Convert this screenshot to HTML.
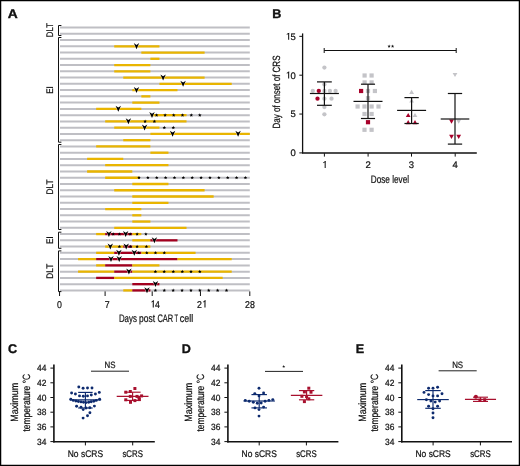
<!DOCTYPE html>
<html><head><meta charset="utf-8"><style>
html,body{margin:0;padding:0;background:#fff;}
svg{display:block;will-change:transform;}
text{font-family:"Liberation Sans",sans-serif;}
.t{stroke:#111;stroke-width:0.22px;}
</style></head><body>
<svg width="520" height="466" viewBox="0 0 520 466">
<rect width="520" height="466" fill="#fff"/>
<rect x="0.6" y="0.6" width="518.8" height="464.8" fill="none" stroke="#000" stroke-width="1.3"/>
<text transform="translate(7.7,17.6) matrix(1,0,0.002,1,0,0)" font-size="12.6" text-anchor="start" font-weight="bold" textLength="10" lengthAdjust="spacingAndGlyphs" fill="#111" stroke="#111" stroke-width="0.35">A</text>
<line x1="60.00" y1="27.50" x2="249.80" y2="27.50" stroke="#bfbfc4" stroke-width="2"/>
<line x1="60.00" y1="33.76" x2="249.80" y2="33.76" stroke="#bfbfc4" stroke-width="2"/>
<line x1="60.00" y1="40.02" x2="249.80" y2="40.02" stroke="#bfbfc4" stroke-width="2"/>
<line x1="60.00" y1="46.28" x2="249.80" y2="46.28" stroke="#bfbfc4" stroke-width="2"/>
<line x1="60.00" y1="52.54" x2="249.80" y2="52.54" stroke="#bfbfc4" stroke-width="2"/>
<line x1="60.00" y1="58.80" x2="249.80" y2="58.80" stroke="#bfbfc4" stroke-width="2"/>
<line x1="60.00" y1="65.06" x2="249.80" y2="65.06" stroke="#bfbfc4" stroke-width="2"/>
<line x1="60.00" y1="71.32" x2="249.80" y2="71.32" stroke="#bfbfc4" stroke-width="2"/>
<line x1="60.00" y1="77.58" x2="249.80" y2="77.58" stroke="#bfbfc4" stroke-width="2"/>
<line x1="60.00" y1="83.84" x2="249.80" y2="83.84" stroke="#bfbfc4" stroke-width="2"/>
<line x1="60.00" y1="90.10" x2="249.80" y2="90.10" stroke="#bfbfc4" stroke-width="2"/>
<line x1="60.00" y1="96.36" x2="249.80" y2="96.36" stroke="#bfbfc4" stroke-width="2"/>
<line x1="60.00" y1="102.62" x2="249.80" y2="102.62" stroke="#bfbfc4" stroke-width="2"/>
<line x1="60.00" y1="108.88" x2="249.80" y2="108.88" stroke="#bfbfc4" stroke-width="2"/>
<line x1="60.00" y1="115.14" x2="249.80" y2="115.14" stroke="#bfbfc4" stroke-width="2"/>
<line x1="60.00" y1="121.40" x2="249.80" y2="121.40" stroke="#bfbfc4" stroke-width="2"/>
<line x1="60.00" y1="127.66" x2="249.80" y2="127.66" stroke="#bfbfc4" stroke-width="2"/>
<line x1="60.00" y1="133.92" x2="249.80" y2="133.92" stroke="#bfbfc4" stroke-width="2"/>
<line x1="60.00" y1="140.18" x2="249.80" y2="140.18" stroke="#bfbfc4" stroke-width="2"/>
<line x1="60.00" y1="146.44" x2="249.80" y2="146.44" stroke="#bfbfc4" stroke-width="2"/>
<line x1="60.00" y1="152.70" x2="249.80" y2="152.70" stroke="#bfbfc4" stroke-width="2"/>
<line x1="60.00" y1="158.96" x2="249.80" y2="158.96" stroke="#bfbfc4" stroke-width="2"/>
<line x1="60.00" y1="165.22" x2="249.80" y2="165.22" stroke="#bfbfc4" stroke-width="2"/>
<line x1="60.00" y1="171.48" x2="249.80" y2="171.48" stroke="#bfbfc4" stroke-width="2"/>
<line x1="60.00" y1="177.74" x2="249.80" y2="177.74" stroke="#bfbfc4" stroke-width="2"/>
<line x1="60.00" y1="184.00" x2="249.80" y2="184.00" stroke="#bfbfc4" stroke-width="2"/>
<line x1="60.00" y1="190.26" x2="249.80" y2="190.26" stroke="#bfbfc4" stroke-width="2"/>
<line x1="60.00" y1="196.52" x2="249.80" y2="196.52" stroke="#bfbfc4" stroke-width="2"/>
<line x1="60.00" y1="202.78" x2="249.80" y2="202.78" stroke="#bfbfc4" stroke-width="2"/>
<line x1="60.00" y1="209.04" x2="249.80" y2="209.04" stroke="#bfbfc4" stroke-width="2"/>
<line x1="60.00" y1="215.30" x2="249.80" y2="215.30" stroke="#bfbfc4" stroke-width="2"/>
<line x1="60.00" y1="221.56" x2="249.80" y2="221.56" stroke="#bfbfc4" stroke-width="2"/>
<line x1="60.00" y1="227.82" x2="249.80" y2="227.82" stroke="#bfbfc4" stroke-width="2"/>
<line x1="60.00" y1="234.08" x2="249.80" y2="234.08" stroke="#bfbfc4" stroke-width="2"/>
<line x1="60.00" y1="240.34" x2="249.80" y2="240.34" stroke="#bfbfc4" stroke-width="2"/>
<line x1="60.00" y1="246.60" x2="249.80" y2="246.60" stroke="#bfbfc4" stroke-width="2"/>
<line x1="60.00" y1="252.86" x2="249.80" y2="252.86" stroke="#bfbfc4" stroke-width="2"/>
<line x1="60.00" y1="259.12" x2="249.80" y2="259.12" stroke="#bfbfc4" stroke-width="2"/>
<line x1="60.00" y1="265.38" x2="249.80" y2="265.38" stroke="#bfbfc4" stroke-width="2"/>
<line x1="60.00" y1="271.64" x2="249.80" y2="271.64" stroke="#bfbfc4" stroke-width="2"/>
<line x1="60.00" y1="277.90" x2="249.80" y2="277.90" stroke="#bfbfc4" stroke-width="2"/>
<line x1="60.00" y1="284.16" x2="249.80" y2="284.16" stroke="#bfbfc4" stroke-width="2"/>
<line x1="60.00" y1="290.42" x2="249.80" y2="290.42" stroke="#bfbfc4" stroke-width="2"/>
<line x1="114.23" y1="46.28" x2="159.42" y2="46.28" stroke="#e9b500" stroke-width="2.3"/>
<line x1="141.34" y1="52.54" x2="204.61" y2="52.54" stroke="#e9b500" stroke-width="2.3"/>
<line x1="150.38" y1="58.80" x2="159.42" y2="58.80" stroke="#e9b500" stroke-width="2.3"/>
<line x1="114.23" y1="65.06" x2="150.38" y2="65.06" stroke="#e9b500" stroke-width="2.3"/>
<line x1="114.23" y1="71.32" x2="150.38" y2="71.32" stroke="#e9b500" stroke-width="2.3"/>
<line x1="123.27" y1="77.58" x2="204.61" y2="77.58" stroke="#e9b500" stroke-width="2.3"/>
<line x1="159.42" y1="83.84" x2="231.72" y2="83.84" stroke="#e9b500" stroke-width="2.3"/>
<line x1="132.30" y1="90.10" x2="177.49" y2="90.10" stroke="#e9b500" stroke-width="2.3"/>
<line x1="141.34" y1="96.36" x2="150.38" y2="96.36" stroke="#e9b500" stroke-width="2.3"/>
<line x1="132.30" y1="102.62" x2="159.42" y2="102.62" stroke="#e9b500" stroke-width="2.3"/>
<line x1="96.15" y1="108.88" x2="141.34" y2="108.88" stroke="#e9b500" stroke-width="2.3"/>
<line x1="150.38" y1="115.14" x2="186.53" y2="115.14" stroke="#e9b500" stroke-width="2.3"/>
<line x1="105.19" y1="121.40" x2="186.53" y2="121.40" stroke="#e9b500" stroke-width="2.3"/>
<line x1="114.23" y1="127.66" x2="159.42" y2="127.66" stroke="#e9b500" stroke-width="2.3"/>
<line x1="150.38" y1="133.92" x2="249.80" y2="133.92" stroke="#e9b500" stroke-width="2.3"/>
<line x1="123.27" y1="140.18" x2="150.38" y2="140.18" stroke="#e9b500" stroke-width="2.3"/>
<line x1="96.15" y1="146.44" x2="150.38" y2="146.44" stroke="#e9b500" stroke-width="2.3"/>
<line x1="150.38" y1="152.70" x2="168.46" y2="152.70" stroke="#e9b500" stroke-width="2.3"/>
<line x1="87.11" y1="158.96" x2="123.27" y2="158.96" stroke="#e9b500" stroke-width="2.3"/>
<line x1="105.19" y1="165.22" x2="168.46" y2="165.22" stroke="#e9b500" stroke-width="2.3"/>
<line x1="87.11" y1="171.48" x2="132.30" y2="171.48" stroke="#e9b500" stroke-width="2.3"/>
<line x1="105.19" y1="177.74" x2="139.53" y2="177.74" stroke="#e9b500" stroke-width="2.3"/>
<line x1="132.30" y1="184.00" x2="168.46" y2="184.00" stroke="#e9b500" stroke-width="2.3"/>
<line x1="114.23" y1="190.26" x2="204.61" y2="190.26" stroke="#e9b500" stroke-width="2.3"/>
<line x1="132.30" y1="196.52" x2="213.65" y2="196.52" stroke="#e9b500" stroke-width="2.3"/>
<line x1="132.30" y1="202.78" x2="168.46" y2="202.78" stroke="#e9b500" stroke-width="2.3"/>
<line x1="105.19" y1="209.04" x2="141.34" y2="209.04" stroke="#e9b500" stroke-width="2.3"/>
<line x1="132.30" y1="215.30" x2="141.34" y2="215.30" stroke="#e9b500" stroke-width="2.3"/>
<line x1="132.30" y1="221.56" x2="150.38" y2="221.56" stroke="#e9b500" stroke-width="2.3"/>
<line x1="114.23" y1="227.82" x2="186.53" y2="227.82" stroke="#e9b500" stroke-width="2.3"/>
<line x1="96.15" y1="234.08" x2="105.19" y2="234.08" stroke="#e9b500" stroke-width="2.3"/>
<line x1="105.19" y1="234.08" x2="132.30" y2="234.08" stroke="#a3001f" stroke-width="2.3"/>
<line x1="132.30" y1="234.08" x2="141.34" y2="234.08" stroke="#e9b500" stroke-width="2.3"/>
<line x1="132.30" y1="240.34" x2="150.38" y2="240.34" stroke="#e9b500" stroke-width="2.3"/>
<line x1="150.38" y1="240.34" x2="177.49" y2="240.34" stroke="#a3001f" stroke-width="2.3"/>
<line x1="105.19" y1="246.60" x2="123.27" y2="246.60" stroke="#e9b500" stroke-width="2.3"/>
<line x1="123.27" y1="246.60" x2="132.30" y2="246.60" stroke="#a3001f" stroke-width="2.3"/>
<line x1="132.30" y1="246.60" x2="150.38" y2="246.60" stroke="#e9b500" stroke-width="2.3"/>
<line x1="96.15" y1="252.86" x2="114.23" y2="252.86" stroke="#e9b500" stroke-width="2.3"/>
<line x1="114.23" y1="252.86" x2="141.34" y2="252.86" stroke="#a3001f" stroke-width="2.3"/>
<line x1="141.34" y1="252.86" x2="195.57" y2="252.86" stroke="#e9b500" stroke-width="2.3"/>
<line x1="78.08" y1="259.12" x2="96.15" y2="259.12" stroke="#e9b500" stroke-width="2.3"/>
<line x1="96.15" y1="259.12" x2="177.49" y2="259.12" stroke="#a3001f" stroke-width="2.3"/>
<line x1="177.49" y1="259.12" x2="231.72" y2="259.12" stroke="#e9b500" stroke-width="2.3"/>
<line x1="96.15" y1="265.38" x2="105.19" y2="265.38" stroke="#e9b500" stroke-width="2.3"/>
<line x1="105.19" y1="265.38" x2="132.30" y2="265.38" stroke="#a3001f" stroke-width="2.3"/>
<line x1="132.30" y1="265.38" x2="159.42" y2="265.38" stroke="#e9b500" stroke-width="2.3"/>
<line x1="78.08" y1="271.64" x2="114.23" y2="271.64" stroke="#e9b500" stroke-width="2.3"/>
<line x1="114.23" y1="271.64" x2="132.30" y2="271.64" stroke="#a3001f" stroke-width="2.3"/>
<line x1="132.30" y1="271.64" x2="231.72" y2="271.64" stroke="#e9b500" stroke-width="2.3"/>
<line x1="96.15" y1="277.90" x2="114.23" y2="277.90" stroke="#a3001f" stroke-width="2.3"/>
<line x1="114.23" y1="277.90" x2="222.68" y2="277.90" stroke="#e9b500" stroke-width="2.3"/>
<line x1="132.30" y1="284.16" x2="159.42" y2="284.16" stroke="#a3001f" stroke-width="2.3"/>
<line x1="123.27" y1="290.42" x2="132.30" y2="290.42" stroke="#e9b500" stroke-width="2.3"/>
<line x1="132.30" y1="290.42" x2="150.38" y2="290.42" stroke="#a3001f" stroke-width="2.3"/>
<path d="M133.80,43.08L136.50,44.98L139.20,43.08L136.50,49.18Z" fill="#000" stroke="#fff" stroke-width="0.7" paint-order="stroke" stroke-linejoin="round"/>
<path d="M160.40,74.38L163.10,76.28L165.80,74.38L163.10,80.48Z" fill="#000" stroke="#fff" stroke-width="0.7" paint-order="stroke" stroke-linejoin="round"/>
<path d="M180.40,80.64L183.10,82.54L185.80,80.64L183.10,86.74Z" fill="#000" stroke="#fff" stroke-width="0.7" paint-order="stroke" stroke-linejoin="round"/>
<path d="M133.80,86.90L136.50,88.80L139.20,86.90L136.50,93.00Z" fill="#000" stroke="#fff" stroke-width="0.7" paint-order="stroke" stroke-linejoin="round"/>
<path d="M115.60,105.68L118.30,107.58L121.00,105.68L118.30,111.78Z" fill="#000" stroke="#fff" stroke-width="0.7" paint-order="stroke" stroke-linejoin="round"/>
<polygon points="156.60,113.29 157.09,114.47 158.36,114.57 157.39,115.40 157.69,116.64 156.60,115.97 155.51,116.64 155.81,115.40 154.84,114.57 156.11,114.47" fill="#000"/>
<polygon points="165.10,113.29 165.59,114.47 166.86,114.57 165.89,115.40 166.19,116.64 165.10,115.97 164.01,116.64 164.31,115.40 163.34,114.57 164.61,114.47" fill="#000"/>
<polygon points="173.70,113.29 174.19,114.47 175.46,114.57 174.49,115.40 174.79,116.64 173.70,115.97 172.61,116.64 172.91,115.40 171.94,114.57 173.21,114.47" fill="#000"/>
<polygon points="182.50,113.29 182.99,114.47 184.26,114.57 183.29,115.40 183.59,116.64 182.50,115.97 181.41,116.64 181.71,115.40 180.74,114.57 182.01,114.47" fill="#000"/>
<polygon points="191.30,113.29 191.79,114.47 193.06,114.57 192.09,115.40 192.39,116.64 191.30,115.97 190.21,116.64 190.51,115.40 189.54,114.57 190.81,114.47" fill="#000"/>
<polygon points="199.80,113.29 200.29,114.47 201.56,114.57 200.59,115.40 200.89,116.64 199.80,115.97 198.71,116.64 199.01,115.40 198.04,114.57 199.31,114.47" fill="#000"/>
<path d="M149.30,111.94L152.00,113.84L154.70,111.94L152.00,118.04Z" fill="#000" stroke="#fff" stroke-width="0.7" paint-order="stroke" stroke-linejoin="round"/>
<polygon points="145.10,119.55 145.59,120.73 146.86,120.83 145.89,121.66 146.19,122.90 145.10,122.23 144.01,122.90 144.31,121.66 143.34,120.83 144.61,120.73" fill="#000"/>
<polygon points="154.40,119.55 154.89,120.73 156.16,120.83 155.19,121.66 155.49,122.90 154.40,122.23 153.31,122.90 153.61,121.66 152.64,120.83 153.91,120.73" fill="#000"/>
<path d="M125.70,118.20L128.40,120.10L131.10,118.20L128.40,124.30Z" fill="#000" stroke="#fff" stroke-width="0.7" paint-order="stroke" stroke-linejoin="round"/>
<polygon points="164.30,125.81 164.79,126.99 166.06,127.09 165.09,127.92 165.39,129.16 164.30,128.49 163.21,129.16 163.51,127.92 162.54,127.09 163.81,126.99" fill="#000"/>
<polygon points="173.30,125.81 173.79,126.99 175.06,127.09 174.09,127.92 174.39,129.16 173.30,128.49 172.21,129.16 172.51,127.92 171.54,127.09 172.81,126.99" fill="#000"/>
<path d="M141.90,124.46L144.60,126.36L147.30,124.46L144.60,130.56Z" fill="#000" stroke="#fff" stroke-width="0.7" paint-order="stroke" stroke-linejoin="round"/>
<path d="M169.90,130.72L172.60,132.62L175.30,130.72L172.60,136.82Z" fill="#000" stroke="#fff" stroke-width="0.7" paint-order="stroke" stroke-linejoin="round"/>
<path d="M235.40,130.72L238.10,132.62L240.80,130.72L238.10,136.82Z" fill="#000" stroke="#fff" stroke-width="0.7" paint-order="stroke" stroke-linejoin="round"/>
<polygon points="139.00,175.89 139.49,177.07 140.76,177.17 139.79,178.00 140.09,179.24 139.00,178.57 137.91,179.24 138.21,178.00 137.24,177.17 138.51,177.07" fill="#000"/>
<polygon points="147.87,175.89 148.36,177.07 149.63,177.17 148.66,178.00 148.96,179.24 147.87,178.57 146.78,179.24 147.08,178.00 146.11,177.17 147.38,177.07" fill="#000"/>
<polygon points="156.74,175.89 157.23,177.07 158.50,177.17 157.53,178.00 157.83,179.24 156.74,178.57 155.65,179.24 155.95,178.00 154.98,177.17 156.25,177.07" fill="#000"/>
<polygon points="165.61,175.89 166.10,177.07 167.37,177.17 166.40,178.00 166.70,179.24 165.61,178.57 164.52,179.24 164.82,178.00 163.85,177.17 165.12,177.07" fill="#000"/>
<polygon points="174.48,175.89 174.97,177.07 176.24,177.17 175.27,178.00 175.57,179.24 174.48,178.57 173.39,179.24 173.69,178.00 172.72,177.17 173.99,177.07" fill="#000"/>
<polygon points="183.35,175.89 183.84,177.07 185.11,177.17 184.14,178.00 184.44,179.24 183.35,178.57 182.26,179.24 182.56,178.00 181.59,177.17 182.86,177.07" fill="#000"/>
<polygon points="192.22,175.89 192.71,177.07 193.98,177.17 193.01,178.00 193.31,179.24 192.22,178.57 191.13,179.24 191.43,178.00 190.46,177.17 191.73,177.07" fill="#000"/>
<polygon points="201.09,175.89 201.58,177.07 202.85,177.17 201.88,178.00 202.18,179.24 201.09,178.57 200.00,179.24 200.30,178.00 199.33,177.17 200.60,177.07" fill="#000"/>
<polygon points="209.96,175.89 210.45,177.07 211.72,177.17 210.75,178.00 211.05,179.24 209.96,178.57 208.87,179.24 209.17,178.00 208.20,177.17 209.47,177.07" fill="#000"/>
<polygon points="218.83,175.89 219.32,177.07 220.59,177.17 219.62,178.00 219.92,179.24 218.83,178.57 217.74,179.24 218.04,178.00 217.07,177.17 218.34,177.07" fill="#000"/>
<polygon points="227.70,175.89 228.19,177.07 229.46,177.17 228.49,178.00 228.79,179.24 227.70,178.57 226.61,179.24 226.91,178.00 225.94,177.17 227.21,177.07" fill="#000"/>
<polygon points="236.57,175.89 237.06,177.07 238.33,177.17 237.36,178.00 237.66,179.24 236.57,178.57 235.48,179.24 235.78,178.00 234.81,177.17 236.08,177.07" fill="#000"/>
<polygon points="245.44,175.89 245.93,177.07 247.20,177.17 246.23,178.00 246.53,179.24 245.44,178.57 244.35,179.24 244.65,178.00 243.68,177.17 244.95,177.07" fill="#000"/>
<polygon points="113.20,232.23 113.69,233.41 114.96,233.51 113.99,234.34 114.29,235.58 113.20,234.91 112.11,235.58 112.41,234.34 111.44,233.51 112.71,233.41" fill="#000"/>
<polygon points="119.40,232.23 119.89,233.41 121.16,233.51 120.19,234.34 120.49,235.58 119.40,234.91 118.31,235.58 118.61,234.34 117.64,233.51 118.91,233.41" fill="#000"/>
<polygon points="130.20,232.23 130.69,233.41 131.96,233.51 130.99,234.34 131.29,235.58 130.20,234.91 129.11,235.58 129.41,234.34 128.44,233.51 129.71,233.41" fill="#000"/>
<polygon points="137.10,232.23 137.59,233.41 138.86,233.51 137.89,234.34 138.19,235.58 137.10,234.91 136.01,235.58 136.31,234.34 135.34,233.51 136.61,233.41" fill="#000"/>
<polygon points="145.90,232.23 146.39,233.41 147.66,233.51 146.69,234.34 146.99,235.58 145.90,234.91 144.81,235.58 145.11,234.34 144.14,233.51 145.41,233.41" fill="#000"/>
<path d="M106.20,230.88L108.90,232.78L111.60,230.88L108.90,236.98Z" fill="#000" stroke="#fff" stroke-width="0.7" paint-order="stroke" stroke-linejoin="round"/>
<path d="M123.00,230.88L125.70,232.78L128.40,230.88L125.70,236.98Z" fill="#000" stroke="#fff" stroke-width="0.7" paint-order="stroke" stroke-linejoin="round"/>
<path d="M151.70,237.14L154.40,239.04L157.10,237.14L154.40,243.24Z" fill="#000" stroke="#fff" stroke-width="0.7" paint-order="stroke" stroke-linejoin="round"/>
<polygon points="119.40,244.75 119.89,245.93 121.16,246.03 120.19,246.86 120.49,248.10 119.40,247.43 118.31,248.10 118.61,246.86 117.64,246.03 118.91,245.93" fill="#000"/>
<polygon points="130.50,244.75 130.99,245.93 132.26,246.03 131.29,246.86 131.59,248.10 130.50,247.43 129.41,248.10 129.71,246.86 128.74,246.03 130.01,245.93" fill="#000"/>
<polygon points="137.10,244.75 137.59,245.93 138.86,246.03 137.89,246.86 138.19,248.10 137.10,247.43 136.01,248.10 136.31,246.86 135.34,246.03 136.61,245.93" fill="#000"/>
<polygon points="146.40,244.75 146.89,245.93 148.16,246.03 147.19,246.86 147.49,248.10 146.40,247.43 145.31,248.10 145.61,246.86 144.64,246.03 145.91,245.93" fill="#000"/>
<path d="M107.60,243.40L110.30,245.30L113.00,243.40L110.30,249.50Z" fill="#000" stroke="#fff" stroke-width="0.7" paint-order="stroke" stroke-linejoin="round"/>
<path d="M123.50,243.40L126.20,245.30L128.90,243.40L126.20,249.50Z" fill="#000" stroke="#fff" stroke-width="0.7" paint-order="stroke" stroke-linejoin="round"/>
<polygon points="138.80,251.01 139.29,252.19 140.56,252.29 139.59,253.12 139.89,254.36 138.80,253.69 137.71,254.36 138.01,253.12 137.04,252.29 138.31,252.19" fill="#000"/>
<polygon points="146.80,251.01 147.29,252.19 148.56,252.29 147.59,253.12 147.89,254.36 146.80,253.69 145.71,254.36 146.01,253.12 145.04,252.29 146.31,252.19" fill="#000"/>
<polygon points="155.50,251.01 155.99,252.19 157.26,252.29 156.29,253.12 156.59,254.36 155.50,253.69 154.41,254.36 154.71,253.12 153.74,252.29 155.01,252.19" fill="#000"/>
<polygon points="164.30,251.01 164.79,252.19 166.06,252.29 165.09,253.12 165.39,254.36 164.30,253.69 163.21,254.36 163.51,253.12 162.54,252.29 163.81,252.19" fill="#000"/>
<path d="M116.20,249.66L118.90,251.56L121.60,249.66L118.90,255.76Z" fill="#000" stroke="#fff" stroke-width="0.7" paint-order="stroke" stroke-linejoin="round"/>
<path d="M131.60,249.66L134.30,251.56L137.00,249.66L134.30,255.76Z" fill="#000" stroke="#fff" stroke-width="0.7" paint-order="stroke" stroke-linejoin="round"/>
<path d="M108.30,255.92L111.00,257.82L113.70,255.92L111.00,262.02Z" fill="#000" stroke="#fff" stroke-width="0.7" paint-order="stroke" stroke-linejoin="round"/>
<path d="M116.50,255.92L119.20,257.82L121.90,255.92L119.20,262.02Z" fill="#000" stroke="#fff" stroke-width="0.7" paint-order="stroke" stroke-linejoin="round"/>
<polygon points="155.40,269.79 155.89,270.97 157.16,271.07 156.19,271.90 156.49,273.14 155.40,272.47 154.31,273.14 154.61,271.90 153.64,271.07 154.91,270.97" fill="#000"/>
<polygon points="164.20,269.79 164.69,270.97 165.96,271.07 164.99,271.90 165.29,273.14 164.20,272.47 163.11,273.14 163.41,271.90 162.44,271.07 163.71,270.97" fill="#000"/>
<polygon points="173.30,269.79 173.79,270.97 175.06,271.07 174.09,271.90 174.39,273.14 173.30,272.47 172.21,273.14 172.51,271.90 171.54,271.07 172.81,270.97" fill="#000"/>
<polygon points="182.30,269.79 182.79,270.97 184.06,271.07 183.09,271.90 183.39,273.14 182.30,272.47 181.21,273.14 181.51,271.90 180.54,271.07 181.81,270.97" fill="#000"/>
<polygon points="191.00,269.79 191.49,270.97 192.76,271.07 191.79,271.90 192.09,273.14 191.00,272.47 189.91,273.14 190.21,271.90 189.24,271.07 190.51,270.97" fill="#000"/>
<polygon points="199.80,269.79 200.29,270.97 201.56,271.07 200.59,271.90 200.89,273.14 199.80,272.47 198.71,273.14 199.01,271.90 198.04,271.07 199.31,270.97" fill="#000"/>
<path d="M126.20,268.44L128.90,270.34L131.60,268.44L128.90,274.54Z" fill="#000" stroke="#fff" stroke-width="0.7" paint-order="stroke" stroke-linejoin="round"/>
<path d="M152.80,280.96L155.50,282.86L158.20,280.96L155.50,287.06Z" fill="#000" stroke="#fff" stroke-width="0.7" paint-order="stroke" stroke-linejoin="round"/>
<polygon points="155.40,288.57 155.89,289.75 157.16,289.85 156.19,290.68 156.49,291.92 155.40,291.25 154.31,291.92 154.61,290.68 153.64,289.85 154.91,289.75" fill="#000"/>
<polygon points="164.29,288.57 164.78,289.75 166.05,289.85 165.08,290.68 165.38,291.92 164.29,291.25 163.20,291.92 163.50,290.68 162.53,289.85 163.80,289.75" fill="#000"/>
<polygon points="173.18,288.57 173.67,289.75 174.94,289.85 173.97,290.68 174.27,291.92 173.18,291.25 172.09,291.92 172.39,290.68 171.42,289.85 172.69,289.75" fill="#000"/>
<polygon points="182.07,288.57 182.56,289.75 183.83,289.85 182.86,290.68 183.16,291.92 182.07,291.25 180.98,291.92 181.28,290.68 180.31,289.85 181.58,289.75" fill="#000"/>
<polygon points="190.96,288.57 191.45,289.75 192.72,289.85 191.75,290.68 192.05,291.92 190.96,291.25 189.87,291.92 190.17,290.68 189.20,289.85 190.47,289.75" fill="#000"/>
<polygon points="199.85,288.57 200.34,289.75 201.61,289.85 200.64,290.68 200.94,291.92 199.85,291.25 198.76,291.92 199.06,290.68 198.09,289.85 199.36,289.75" fill="#000"/>
<polygon points="208.74,288.57 209.23,289.75 210.50,289.85 209.53,290.68 209.83,291.92 208.74,291.25 207.65,291.92 207.95,290.68 206.98,289.85 208.25,289.75" fill="#000"/>
<polygon points="217.63,288.57 218.12,289.75 219.39,289.85 218.42,290.68 218.72,291.92 217.63,291.25 216.54,291.92 216.84,290.68 215.87,289.85 217.14,289.75" fill="#000"/>
<polygon points="226.52,288.57 227.01,289.75 228.28,289.85 227.31,290.68 227.61,291.92 226.52,291.25 225.43,291.92 225.73,290.68 224.76,289.85 226.03,289.75" fill="#000"/>
<path d="M144.30,287.22L147.00,289.12L149.70,287.22L147.00,293.32Z" fill="#000" stroke="#fff" stroke-width="0.7" paint-order="stroke" stroke-linejoin="round"/>
<path d="M61.4,25.5H58.5V35.5H61.4" fill="none" stroke="#111" stroke-width="1.0"/>
<path d="M61.4,37.5H58.5V142.2H61.4" fill="none" stroke="#111" stroke-width="1.0"/>
<path d="M61.4,144.5H58.5V229.5H61.4" fill="none" stroke="#111" stroke-width="1.0"/>
<path d="M61.4,232.2H58.5V248.3H61.4" fill="none" stroke="#111" stroke-width="1.0"/>
<path d="M61.4,250.9H58.5V291.6H61.4" fill="none" stroke="#111" stroke-width="1.0"/>
<text transform="translate(53,30.1) rotate(-90) matrix(1,0,0.002,1,0,0)" font-size="9.6" text-anchor="middle" class="t" textLength="14.2" lengthAdjust="spacingAndGlyphs" fill="#111" >DLT</text>
<text transform="translate(53,187) rotate(-90) matrix(1,0,0.002,1,0,0)" font-size="9.6" text-anchor="middle" class="t" textLength="15" lengthAdjust="spacingAndGlyphs" fill="#111" >DLT</text>
<text transform="translate(53,271.3) rotate(-90) matrix(1,0,0.002,1,0,0)" font-size="9.6" text-anchor="middle" class="t" textLength="15" lengthAdjust="spacingAndGlyphs" fill="#111" >DLT</text>
<text transform="translate(53,93.8) rotate(-90) matrix(1,0,0.002,1,0,0)" font-size="9.6" text-anchor="start" class="t" textLength="5.4" lengthAdjust="spacingAndGlyphs" fill="#111" >E</text>
<line x1="46.30" y1="87.40" x2="53.00" y2="87.40" stroke="#111" stroke-width="1.0"/>
<text transform="translate(53,243.9) rotate(-90) matrix(1,0,0.002,1,0,0)" font-size="9.6" text-anchor="start" class="t" textLength="5.4" lengthAdjust="spacingAndGlyphs" fill="#111" >E</text>
<line x1="46.30" y1="237.50" x2="53.00" y2="237.50" stroke="#111" stroke-width="1.0"/>
<line x1="59.55" y1="291.40" x2="59.55" y2="296.00" stroke="#111" stroke-width="1"/>
<line x1="105.10" y1="291.40" x2="105.10" y2="296.00" stroke="#111" stroke-width="1"/>
<line x1="152.20" y1="291.40" x2="152.20" y2="296.00" stroke="#111" stroke-width="1"/>
<line x1="200.45" y1="291.40" x2="200.45" y2="296.00" stroke="#111" stroke-width="1"/>
<line x1="249.80" y1="291.40" x2="249.80" y2="296.00" stroke="#111" stroke-width="1"/>
<text transform="translate(59.5,307.5) matrix(1,0,0.002,1,0,0)" font-size="9.9" text-anchor="middle" class="t" textLength="4.9" lengthAdjust="spacingAndGlyphs" fill="#111" >0</text>
<text transform="translate(107.1,307.5) matrix(1,0,0.002,1,0,0)" font-size="9.9" text-anchor="middle" class="t" textLength="4.9" lengthAdjust="spacingAndGlyphs" fill="#111" >7</text>
<text x="155" y="307.5" font-size="9.9" text-anchor="middle" fill="none">14</text>
<path d="M153.27,307.50V300.57" stroke="#111" stroke-width="1.06" fill="none"/>
<path d="M153.80,300.77L151.51,301.96" stroke="#111" stroke-width="0.96" fill="none"/>
<text transform="translate(155.0,307.5) matrix(1,0,0.002,1,0,0)" font-size="9.9" text-anchor="start" class="t" textLength="4.9" lengthAdjust="spacingAndGlyphs" fill="#111" >4</text>
<text x="201.8" y="307.5" font-size="9.9" text-anchor="middle" fill="none">21</text>
<text transform="translate(196.9,307.5) matrix(1,0,0.002,1,0,0)" font-size="9.9" text-anchor="start" class="t" textLength="4.9" lengthAdjust="spacingAndGlyphs" fill="#111" >2</text>
<path d="M204.97,307.50V300.57" stroke="#111" stroke-width="1.06" fill="none"/>
<path d="M205.50,300.77L203.21,301.96" stroke="#111" stroke-width="0.96" fill="none"/>
<text transform="translate(249.9,307.5) matrix(1,0,0.002,1,0,0)" font-size="9.9" text-anchor="middle" class="t" textLength="9.8" lengthAdjust="spacingAndGlyphs" fill="#111" >28</text>
<text transform="translate(118.9,322.3) matrix(1,0,0.002,1,0,0)" font-size="10.9" text-anchor="start" class="t" textLength="18.0" lengthAdjust="spacingAndGlyphs" fill="#111" >Days</text>
<text transform="translate(139.0,322.3) matrix(1,0,0.002,1,0,0)" font-size="10.9" text-anchor="start" class="t" textLength="16.0" lengthAdjust="spacingAndGlyphs" fill="#111" >post</text>
<text transform="translate(157.4,322.3) matrix(1,0,0.002,1,0,0)" font-size="10.9" text-anchor="start" class="t" textLength="15.8" lengthAdjust="spacingAndGlyphs" fill="#111" >CAR</text>
<text transform="translate(174.6,322.3) matrix(1,0,0.002,1,0,0)" font-size="10.9" text-anchor="start" class="t" textLength="3.6" lengthAdjust="spacingAndGlyphs" fill="#111" >T</text>
<text transform="translate(179.8,322.3) matrix(1,0,0.002,1,0,0)" font-size="10.9" text-anchor="start" class="t" textLength="13.3" lengthAdjust="spacingAndGlyphs" fill="#111" >cell</text>
<text transform="translate(272.3,18.1) matrix(1,0,0.002,1,0,0)" font-size="12.6" text-anchor="start" font-weight="bold" fill="#111" stroke="#111" stroke-width="0.35">B</text>
<line x1="302.60" y1="33.40" x2="302.60" y2="153.20" stroke="#111" stroke-width="1.3"/>
<line x1="302.00" y1="153.00" x2="476.80" y2="153.00" stroke="#111" stroke-width="1.6"/>
<line x1="299.30" y1="152.90" x2="302.60" y2="152.90" stroke="#111" stroke-width="1"/>
<text transform="translate(295.8,156.20000000000002) matrix(1,0,0.002,1,0,0)" font-size="9.5" text-anchor="end" class="t" fill="#111" >0</text>
<line x1="299.30" y1="114.05" x2="302.60" y2="114.05" stroke="#111" stroke-width="1"/>
<text transform="translate(295.8,117.35000000000001) matrix(1,0,0.002,1,0,0)" font-size="9.5" text-anchor="end" class="t" fill="#111" >5</text>
<line x1="299.30" y1="75.20" x2="302.60" y2="75.20" stroke="#111" stroke-width="1"/>
<text x="295.8" y="78.50000000000001" font-size="9.5" text-anchor="end" fill="none">10</text>
<path d="M288.66,78.50V71.85" stroke="#111" stroke-width="1.03" fill="none"/>
<path d="M289.17,72.04L286.76,73.18" stroke="#111" stroke-width="0.93" fill="none"/>
<text transform="translate(290.518,78.50000000000001) matrix(1,0,0.002,1,0,0)" font-size="9.5" text-anchor="start" class="t" fill="#111" >0</text>
<line x1="299.30" y1="36.35" x2="302.60" y2="36.35" stroke="#111" stroke-width="1"/>
<text x="295.8" y="39.650000000000006" font-size="9.5" text-anchor="end" fill="none">15</text>
<path d="M288.66,39.65V33.00" stroke="#111" stroke-width="1.03" fill="none"/>
<path d="M289.17,33.19L286.76,34.33" stroke="#111" stroke-width="0.93" fill="none"/>
<text transform="translate(290.518,39.650000000000006) matrix(1,0,0.002,1,0,0)" font-size="9.5" text-anchor="start" class="t" fill="#111" >5</text>
<line x1="324.40" y1="153.20" x2="324.40" y2="156.60" stroke="#111" stroke-width="1"/>
<text x="324.4" y="168.0" font-size="9.5" text-anchor="middle" fill="none">1</text>
<path d="M325.18,168.00V161.35" stroke="#111" stroke-width="1.03" fill="none"/>
<path d="M325.69,161.54L323.28,162.68" stroke="#111" stroke-width="0.93" fill="none"/>
<line x1="368.10" y1="153.20" x2="368.10" y2="156.60" stroke="#111" stroke-width="1"/>
<text transform="translate(368.1,168.0) matrix(1,0,0.002,1,0,0)" font-size="9.5" text-anchor="middle" class="t" fill="#111" >2</text>
<line x1="411.50" y1="153.20" x2="411.50" y2="156.60" stroke="#111" stroke-width="1"/>
<text transform="translate(411.5,168.0) matrix(1,0,0.002,1,0,0)" font-size="9.5" text-anchor="middle" class="t" fill="#111" >3</text>
<line x1="455.20" y1="153.20" x2="455.20" y2="156.60" stroke="#111" stroke-width="1"/>
<text transform="translate(455.2,168.0) matrix(1,0,0.002,1,0,0)" font-size="9.5" text-anchor="middle" class="t" fill="#111" >4</text>
<text transform="translate(370.7,182.5) matrix(1,0,0.002,1,0,0)" font-size="10.9" text-anchor="start" class="t" textLength="38.4" lengthAdjust="spacingAndGlyphs" fill="#111" >Dose level</text>
<text transform="translate(279.5,92) rotate(-90) matrix(1,0,0.002,1,0,0)" font-size="10.5" text-anchor="middle" class="t" textLength="73" lengthAdjust="spacingAndGlyphs" fill="#111" >Day of onset of CRS</text>
<line x1="324.20" y1="50.50" x2="456.20" y2="50.50" stroke="#111" stroke-width="1"/>
<line x1="324.20" y1="48.00" x2="324.20" y2="53.00" stroke="#111" stroke-width="1"/>
<line x1="456.20" y1="48.00" x2="456.20" y2="53.00" stroke="#111" stroke-width="1"/>
<polygon points="389.10,44.60 389.55,45.68 390.72,45.77 389.83,46.54 390.10,47.68 389.10,47.06 388.10,47.68 388.37,46.54 387.48,45.77 388.65,45.68" fill="#111"/>
<polygon points="392.60,44.60 393.05,45.68 394.22,45.77 393.33,46.54 393.60,47.68 392.60,47.06 391.60,47.68 391.87,46.54 390.98,45.77 392.15,45.68" fill="#111"/>
<circle cx="324.4" cy="67.6" r="2.15" fill="#c4c4c8"/>
<circle cx="324.4" cy="84.4" r="2.15" fill="#c4c4c8"/>
<circle cx="312.8" cy="90.9" r="2.15" fill="#c4c4c8"/>
<circle cx="318.8" cy="90.9" r="2.15" fill="#a8002a"/>
<circle cx="324.4" cy="90.9" r="2.15" fill="#c4c4c8"/>
<circle cx="329.9" cy="90.9" r="2.15" fill="#c4c4c8"/>
<circle cx="335.6" cy="90.9" r="2.15" fill="#c4c4c8"/>
<circle cx="317.5" cy="98.7" r="2.15" fill="#a8002a"/>
<circle cx="324.4" cy="98.7" r="2.15" fill="#c4c4c8"/>
<circle cx="331.5" cy="98.7" r="2.15" fill="#c4c4c8"/>
<circle cx="324.4" cy="107.1" r="2.15" fill="#c4c4c8"/>
<circle cx="324.4" cy="114.3" r="2.15" fill="#c4c4c8"/>
<rect x="362.50" y="73.40" width="4.2" height="4.2" fill="#c4c4c8"/>
<rect x="369.50" y="73.40" width="4.2" height="4.2" fill="#c4c4c8"/>
<rect x="362.50" y="80.30" width="4.2" height="4.2" fill="#c4c4c8"/>
<rect x="369.50" y="80.30" width="4.2" height="4.2" fill="#c4c4c8"/>
<rect x="359.00" y="88.90" width="4.2" height="4.2" fill="#a8002a"/>
<rect x="365.90" y="88.90" width="4.2" height="4.2" fill="#c4c4c8"/>
<rect x="372.80" y="88.90" width="4.2" height="4.2" fill="#c4c4c8"/>
<rect x="365.90" y="96.10" width="4.2" height="4.2" fill="#c4c4c8"/>
<rect x="355.50" y="104.40" width="4.2" height="4.2" fill="#c4c4c8"/>
<rect x="362.40" y="104.40" width="4.2" height="4.2" fill="#c4c4c8"/>
<rect x="369.50" y="104.40" width="4.2" height="4.2" fill="#c4c4c8"/>
<rect x="376.40" y="104.40" width="4.2" height="4.2" fill="#c4c4c8"/>
<rect x="362.40" y="111.90" width="4.2" height="4.2" fill="#c4c4c8"/>
<rect x="369.50" y="111.90" width="4.2" height="4.2" fill="#c4c4c8"/>
<rect x="365.90" y="120.10" width="4.2" height="4.2" fill="#a8002a"/>
<rect x="362.40" y="127.70" width="4.2" height="4.2" fill="#c4c4c8"/>
<rect x="369.50" y="127.70" width="4.2" height="4.2" fill="#c4c4c8"/>
<path d="M409.20,93.90L411.60,89.70L414.00,93.90Z" fill="#c4c4c8"/>
<path d="M409.20,102.60L411.60,98.40L414.00,102.60Z" fill="#c4c4c8"/>
<path d="M405.80,117.10L408.20,112.90L410.60,117.10Z" fill="#a8002a"/>
<path d="M412.60,117.10L415.00,112.90L417.40,117.10Z" fill="#c4c4c8"/>
<path d="M405.80,124.30L408.20,120.10L410.60,124.30Z" fill="#a8002a"/>
<path d="M412.60,124.30L415.00,120.10L417.40,124.30Z" fill="#a8002a"/>
<path d="M452.60,72.90L455.00,77.10L457.40,72.90Z" fill="#c4c4c8"/>
<path d="M449.10,119.50L451.50,123.70L453.90,119.50Z" fill="#a8002a"/>
<path d="M456.30,119.50L458.70,123.70L461.10,119.50Z" fill="#c4c4c8"/>
<path d="M449.10,134.80L451.50,139.00L453.90,134.80Z" fill="#a8002a"/>
<path d="M456.30,134.80L458.70,139.00L461.10,134.80Z" fill="#a8002a"/>
<line x1="324.40" y1="81.90" x2="324.40" y2="105.30" stroke="#111" stroke-width="1.2"/>
<line x1="317.00" y1="81.90" x2="331.80" y2="81.90" stroke="#111" stroke-width="1.2"/>
<line x1="317.00" y1="105.30" x2="331.80" y2="105.30" stroke="#111" stroke-width="1.2"/>
<line x1="309.90" y1="93.50" x2="338.90" y2="93.50" stroke="#111" stroke-width="1.2"/>
<line x1="368.00" y1="84.20" x2="368.00" y2="118.50" stroke="#111" stroke-width="1.2"/>
<line x1="360.95" y1="84.20" x2="375.05" y2="84.20" stroke="#111" stroke-width="1.2"/>
<line x1="360.95" y1="118.50" x2="375.05" y2="118.50" stroke="#111" stroke-width="1.2"/>
<line x1="353.50" y1="101.40" x2="382.50" y2="101.40" stroke="#111" stroke-width="1.2"/>
<line x1="411.60" y1="97.60" x2="411.60" y2="123.50" stroke="#111" stroke-width="1.2"/>
<line x1="404.45" y1="97.60" x2="418.75" y2="97.60" stroke="#111" stroke-width="1.2"/>
<line x1="404.45" y1="123.50" x2="418.75" y2="123.50" stroke="#111" stroke-width="1.2"/>
<line x1="397.10" y1="110.40" x2="426.10" y2="110.40" stroke="#111" stroke-width="1.2"/>
<line x1="455.00" y1="93.50" x2="455.00" y2="144.10" stroke="#111" stroke-width="1.2"/>
<line x1="447.85" y1="93.50" x2="462.15" y2="93.50" stroke="#111" stroke-width="1.2"/>
<line x1="447.85" y1="144.10" x2="462.15" y2="144.10" stroke="#111" stroke-width="1.2"/>
<line x1="440.70" y1="119.00" x2="469.30" y2="119.00" stroke="#111" stroke-width="1.2"/>
<text transform="translate(7.9,353.4) matrix(1,0,0.002,1,0,0)" font-size="12.6" text-anchor="start" font-weight="bold" fill="#111" stroke="#111" stroke-width="0.35">C</text>
<line x1="53.90" y1="364.50" x2="53.90" y2="442.40" stroke="#111" stroke-width="1.6"/>
<line x1="53.20" y1="441.75" x2="154.80" y2="441.75" stroke="#111" stroke-width="1.5"/>
<line x1="50.40" y1="441.60" x2="53.70" y2="441.60" stroke="#111" stroke-width="1"/>
<text transform="translate(46.5,444.6) matrix(1,0,0.002,1,0,0)" font-size="9" text-anchor="end" class="t" textLength="9.4" lengthAdjust="spacingAndGlyphs" fill="#111" >34</text>
<line x1="50.40" y1="426.90" x2="53.70" y2="426.90" stroke="#111" stroke-width="1"/>
<text transform="translate(46.5,429.90000000000003) matrix(1,0,0.002,1,0,0)" font-size="9" text-anchor="end" class="t" textLength="9.4" lengthAdjust="spacingAndGlyphs" fill="#111" >36</text>
<line x1="50.40" y1="412.20" x2="53.70" y2="412.20" stroke="#111" stroke-width="1"/>
<text transform="translate(46.5,415.20000000000005) matrix(1,0,0.002,1,0,0)" font-size="9" text-anchor="end" class="t" textLength="9.4" lengthAdjust="spacingAndGlyphs" fill="#111" >38</text>
<line x1="50.40" y1="397.50" x2="53.70" y2="397.50" stroke="#111" stroke-width="1"/>
<text transform="translate(46.5,400.5) matrix(1,0,0.002,1,0,0)" font-size="9" text-anchor="end" class="t" textLength="9.4" lengthAdjust="spacingAndGlyphs" fill="#111" >40</text>
<line x1="50.40" y1="382.80" x2="53.70" y2="382.80" stroke="#111" stroke-width="1"/>
<text transform="translate(46.5,385.8) matrix(1,0,0.002,1,0,0)" font-size="9" text-anchor="end" class="t" textLength="9.4" lengthAdjust="spacingAndGlyphs" fill="#111" >42</text>
<line x1="50.40" y1="368.10" x2="53.70" y2="368.10" stroke="#111" stroke-width="1"/>
<text transform="translate(46.5,371.1) matrix(1,0,0.002,1,0,0)" font-size="9" text-anchor="end" class="t" textLength="9.4" lengthAdjust="spacingAndGlyphs" fill="#111" >44</text>
<line x1="85.40" y1="441.90" x2="85.40" y2="445.40" stroke="#111" stroke-width="1"/>
<line x1="132.70" y1="441.90" x2="132.70" y2="445.40" stroke="#111" stroke-width="1"/>
<text transform="translate(85.4,456.5) matrix(1,0,0.002,1,0,0)" font-size="9.6" text-anchor="middle" class="t" textLength="35.3" lengthAdjust="spacingAndGlyphs" fill="#111" >No sCRS</text>
<text transform="translate(132.7,456.5) matrix(1,0,0.002,1,0,0)" font-size="9.6" text-anchor="middle" class="t" textLength="20.5" lengthAdjust="spacingAndGlyphs" fill="#111" >sCRS</text>
<text transform="translate(17.800000000000004,402.3) rotate(-90) matrix(1,0,0.002,1,0,0)" font-size="10.5" text-anchor="middle" class="t" textLength="39" lengthAdjust="spacingAndGlyphs" fill="#111" >Maximum</text>
<text transform="translate(30.000000000000004,402.7) rotate(-90) matrix(1,0,0.002,1,0,0)" font-size="10.5" text-anchor="middle" class="t" textLength="57.8" lengthAdjust="spacingAndGlyphs" fill="#111" >temperature °C</text>
<line x1="91.00" y1="371.20" x2="129.00" y2="371.20" stroke="#222" stroke-width="1"/>
<text transform="translate(110.0,367.8) matrix(1,0,0.002,1,0,0)" font-size="9.2" text-anchor="middle" class="t" textLength="11.0" lengthAdjust="spacingAndGlyphs" fill="#111" >NS</text>
<circle cx="78.8" cy="387.0" r="1.45" fill="#0d2a6e"/>
<circle cx="83.1" cy="388.2" r="1.45" fill="#0d2a6e"/>
<circle cx="87.5" cy="388" r="1.45" fill="#0d2a6e"/>
<circle cx="92" cy="388" r="1.45" fill="#0d2a6e"/>
<circle cx="71.6" cy="393" r="1.45" fill="#0d2a6e"/>
<circle cx="75.4" cy="394" r="1.45" fill="#0d2a6e"/>
<circle cx="79.5" cy="395.9" r="1.45" fill="#0d2a6e"/>
<circle cx="83.3" cy="396.2" r="1.45" fill="#0d2a6e"/>
<circle cx="87.5" cy="395.9" r="1.45" fill="#0d2a6e"/>
<circle cx="91.3" cy="395" r="1.45" fill="#0d2a6e"/>
<circle cx="95.4" cy="394" r="1.45" fill="#0d2a6e"/>
<circle cx="99.3" cy="392.4" r="1.45" fill="#0d2a6e"/>
<circle cx="70.8" cy="399.3" r="1.45" fill="#0d2a6e"/>
<circle cx="73.3" cy="400.4" r="1.45" fill="#0d2a6e"/>
<circle cx="75.9" cy="401" r="1.45" fill="#0d2a6e"/>
<circle cx="78.4" cy="401.5" r="1.45" fill="#0d2a6e"/>
<circle cx="81" cy="401.9" r="1.45" fill="#0d2a6e"/>
<circle cx="83.5" cy="402.3" r="1.45" fill="#0d2a6e"/>
<circle cx="86.1" cy="402.6" r="1.45" fill="#0d2a6e"/>
<circle cx="88.7" cy="402.3" r="1.45" fill="#0d2a6e"/>
<circle cx="91.2" cy="401.7" r="1.45" fill="#0d2a6e"/>
<circle cx="93.8" cy="401.2" r="1.45" fill="#0d2a6e"/>
<circle cx="96.3" cy="400.4" r="1.45" fill="#0d2a6e"/>
<circle cx="99.6" cy="399.3" r="1.45" fill="#0d2a6e"/>
<circle cx="76.6" cy="406.3" r="1.45" fill="#0d2a6e"/>
<circle cx="81" cy="407.2" r="1.45" fill="#0d2a6e"/>
<circle cx="83.2" cy="409.6" r="1.45" fill="#0d2a6e"/>
<circle cx="86" cy="408" r="1.45" fill="#0d2a6e"/>
<circle cx="89.8" cy="407.7" r="1.45" fill="#0d2a6e"/>
<circle cx="94.4" cy="406.1" r="1.45" fill="#0d2a6e"/>
<circle cx="89.9" cy="412.8" r="1.45" fill="#0d2a6e"/>
<circle cx="87.5" cy="415.7" r="1.45" fill="#0d2a6e"/>
<circle cx="83.1" cy="418.1" r="1.45" fill="#0d2a6e"/>
<rect x="133.40" y="387.00" width="3.0" height="3.0" fill="#a8102e"/>
<rect x="124.30" y="390.70" width="3.0" height="3.0" fill="#a8102e"/>
<rect x="128.80" y="390.00" width="3.0" height="3.0" fill="#a8102e"/>
<rect x="128.80" y="394.90" width="3.0" height="3.0" fill="#a8102e"/>
<rect x="135.50" y="394.90" width="3.0" height="3.0" fill="#a8102e"/>
<rect x="140.10" y="394.40" width="3.0" height="3.0" fill="#a8102e"/>
<rect x="137.60" y="396.40" width="3.0" height="3.0" fill="#a8102e"/>
<rect x="124.30" y="398.30" width="3.0" height="3.0" fill="#a8102e"/>
<rect x="129.00" y="400.80" width="3.0" height="3.0" fill="#a8102e"/>
<rect x="133.40" y="399.10" width="3.0" height="3.0" fill="#a8102e"/>
<rect x="137.80" y="398.10" width="3.0" height="3.0" fill="#a8102e"/>
<line x1="85.40" y1="392.40" x2="85.40" y2="408.00" stroke="#0d2a6e" stroke-width="1.15"/>
<line x1="78.15" y1="392.40" x2="92.65" y2="392.40" stroke="#0d2a6e" stroke-width="1.15"/>
<line x1="78.15" y1="408.00" x2="92.65" y2="408.00" stroke="#0d2a6e" stroke-width="1.15"/>
<line x1="69.70" y1="399.80" x2="101.10" y2="399.80" stroke="#0d2a6e" stroke-width="1.15"/>
<line x1="132.60" y1="392.20" x2="132.60" y2="400.40" stroke="#a8102e" stroke-width="1.15"/>
<line x1="124.60" y1="392.20" x2="140.60" y2="392.20" stroke="#a8102e" stroke-width="1.15"/>
<line x1="124.60" y1="400.40" x2="140.60" y2="400.40" stroke="#a8102e" stroke-width="1.15"/>
<line x1="116.70" y1="396.40" x2="148.50" y2="396.40" stroke="#a8102e" stroke-width="1.15"/>
<text transform="translate(181.8,353.4) matrix(1,0,0.002,1,0,0)" font-size="12.6" text-anchor="start" font-weight="bold" fill="#111" stroke="#111" stroke-width="0.35">D</text>
<line x1="227.90" y1="364.50" x2="227.90" y2="442.40" stroke="#111" stroke-width="1.6"/>
<line x1="227.20" y1="441.75" x2="338.40" y2="441.75" stroke="#111" stroke-width="1.5"/>
<line x1="224.40" y1="441.60" x2="227.70" y2="441.60" stroke="#111" stroke-width="1"/>
<text transform="translate(220.5,444.6) matrix(1,0,0.002,1,0,0)" font-size="9" text-anchor="end" class="t" textLength="9.4" lengthAdjust="spacingAndGlyphs" fill="#111" >34</text>
<line x1="224.40" y1="426.90" x2="227.70" y2="426.90" stroke="#111" stroke-width="1"/>
<text transform="translate(220.5,429.90000000000003) matrix(1,0,0.002,1,0,0)" font-size="9" text-anchor="end" class="t" textLength="9.4" lengthAdjust="spacingAndGlyphs" fill="#111" >36</text>
<line x1="224.40" y1="412.20" x2="227.70" y2="412.20" stroke="#111" stroke-width="1"/>
<text transform="translate(220.5,415.20000000000005) matrix(1,0,0.002,1,0,0)" font-size="9" text-anchor="end" class="t" textLength="9.4" lengthAdjust="spacingAndGlyphs" fill="#111" >38</text>
<line x1="224.40" y1="397.50" x2="227.70" y2="397.50" stroke="#111" stroke-width="1"/>
<text transform="translate(220.5,400.5) matrix(1,0,0.002,1,0,0)" font-size="9" text-anchor="end" class="t" textLength="9.4" lengthAdjust="spacingAndGlyphs" fill="#111" >40</text>
<line x1="224.40" y1="382.80" x2="227.70" y2="382.80" stroke="#111" stroke-width="1"/>
<text transform="translate(220.5,385.8) matrix(1,0,0.002,1,0,0)" font-size="9" text-anchor="end" class="t" textLength="9.4" lengthAdjust="spacingAndGlyphs" fill="#111" >42</text>
<line x1="224.40" y1="368.10" x2="227.70" y2="368.10" stroke="#111" stroke-width="1"/>
<text transform="translate(220.5,371.1) matrix(1,0,0.002,1,0,0)" font-size="9" text-anchor="end" class="t" textLength="9.4" lengthAdjust="spacingAndGlyphs" fill="#111" >44</text>
<line x1="259.20" y1="441.90" x2="259.20" y2="445.40" stroke="#111" stroke-width="1"/>
<line x1="306.40" y1="441.90" x2="306.40" y2="445.40" stroke="#111" stroke-width="1"/>
<text transform="translate(259.2,456.5) matrix(1,0,0.002,1,0,0)" font-size="9.6" text-anchor="middle" class="t" textLength="35.3" lengthAdjust="spacingAndGlyphs" fill="#111" >No sCRS</text>
<text transform="translate(306.4,456.5) matrix(1,0,0.002,1,0,0)" font-size="9.6" text-anchor="middle" class="t" textLength="20.5" lengthAdjust="spacingAndGlyphs" fill="#111" >sCRS</text>
<text transform="translate(191.79999999999998,402.3) rotate(-90) matrix(1,0,0.002,1,0,0)" font-size="10.5" text-anchor="middle" class="t" textLength="39" lengthAdjust="spacingAndGlyphs" fill="#111" >Maximum</text>
<text transform="translate(204.0,402.7) rotate(-90) matrix(1,0,0.002,1,0,0)" font-size="10.5" text-anchor="middle" class="t" textLength="57.8" lengthAdjust="spacingAndGlyphs" fill="#111" >temperature °C</text>
<line x1="265.00" y1="371.40" x2="303.00" y2="371.40" stroke="#222" stroke-width="1"/>
<polygon points="283.70,364.90 284.12,365.92 285.22,366.01 284.38,366.72 284.64,367.79 283.70,367.22 282.76,367.79 283.02,366.72 282.18,366.01 283.28,365.92" fill="#222"/>
<circle cx="259" cy="388.2" r="1.45" fill="#0d2a6e"/>
<circle cx="254.8" cy="393.6" r="1.45" fill="#0d2a6e"/>
<circle cx="263.6" cy="392.9" r="1.45" fill="#0d2a6e"/>
<circle cx="259" cy="395.9" r="1.45" fill="#0d2a6e"/>
<circle cx="245.3" cy="400.4" r="1.45" fill="#0d2a6e"/>
<circle cx="249.2" cy="401.3" r="1.45" fill="#0d2a6e"/>
<circle cx="253.3" cy="402.2" r="1.45" fill="#0d2a6e"/>
<circle cx="257.3" cy="403.2" r="1.45" fill="#0d2a6e"/>
<circle cx="261.2" cy="403" r="1.45" fill="#0d2a6e"/>
<circle cx="265.1" cy="401.3" r="1.45" fill="#0d2a6e"/>
<circle cx="268.9" cy="400.4" r="1.45" fill="#0d2a6e"/>
<circle cx="272.8" cy="399.6" r="1.45" fill="#0d2a6e"/>
<circle cx="255" cy="407.9" r="1.45" fill="#0d2a6e"/>
<circle cx="263.6" cy="407.1" r="1.45" fill="#0d2a6e"/>
<circle cx="259" cy="409.6" r="1.45" fill="#0d2a6e"/>
<circle cx="259" cy="416.1" r="1.45" fill="#0d2a6e"/>
<rect x="307.30" y="386.70" width="3.0" height="3.0" fill="#a8102e"/>
<rect x="302.90" y="390.40" width="3.0" height="3.0" fill="#a8102e"/>
<rect x="309.50" y="390.70" width="3.0" height="3.0" fill="#a8102e"/>
<rect x="300.40" y="394.80" width="3.0" height="3.0" fill="#a8102e"/>
<rect x="305.10" y="395.10" width="3.0" height="3.0" fill="#a8102e"/>
<rect x="307.30" y="397.30" width="3.0" height="3.0" fill="#a8102e"/>
<rect x="302.90" y="400.10" width="3.0" height="3.0" fill="#a8102e"/>
<line x1="259.20" y1="394.60" x2="259.20" y2="407.90" stroke="#0d2a6e" stroke-width="1.15"/>
<line x1="251.45" y1="394.60" x2="266.95" y2="394.60" stroke="#0d2a6e" stroke-width="1.15"/>
<line x1="251.45" y1="407.90" x2="266.95" y2="407.90" stroke="#0d2a6e" stroke-width="1.15"/>
<line x1="243.50" y1="401.00" x2="274.90" y2="401.00" stroke="#0d2a6e" stroke-width="1.15"/>
<line x1="306.60" y1="390.60" x2="306.60" y2="399.80" stroke="#a8102e" stroke-width="1.15"/>
<line x1="298.95" y1="390.60" x2="314.25" y2="390.60" stroke="#a8102e" stroke-width="1.15"/>
<line x1="298.95" y1="399.80" x2="314.25" y2="399.80" stroke="#a8102e" stroke-width="1.15"/>
<line x1="290.85" y1="395.40" x2="322.35" y2="395.40" stroke="#a8102e" stroke-width="1.15"/>
<text transform="translate(355.8,353.4) matrix(1,0,0.002,1,0,0)" font-size="12.6" text-anchor="start" font-weight="bold" fill="#111" stroke="#111" stroke-width="0.35">E</text>
<line x1="401.80" y1="364.50" x2="401.80" y2="442.40" stroke="#111" stroke-width="1.6"/>
<line x1="401.10" y1="441.75" x2="512.00" y2="441.75" stroke="#111" stroke-width="1.5"/>
<line x1="398.30" y1="441.60" x2="401.60" y2="441.60" stroke="#111" stroke-width="1"/>
<text transform="translate(394.40000000000003,444.6) matrix(1,0,0.002,1,0,0)" font-size="9" text-anchor="end" class="t" textLength="9.4" lengthAdjust="spacingAndGlyphs" fill="#111" >34</text>
<line x1="398.30" y1="426.90" x2="401.60" y2="426.90" stroke="#111" stroke-width="1"/>
<text transform="translate(394.40000000000003,429.90000000000003) matrix(1,0,0.002,1,0,0)" font-size="9" text-anchor="end" class="t" textLength="9.4" lengthAdjust="spacingAndGlyphs" fill="#111" >36</text>
<line x1="398.30" y1="412.20" x2="401.60" y2="412.20" stroke="#111" stroke-width="1"/>
<text transform="translate(394.40000000000003,415.20000000000005) matrix(1,0,0.002,1,0,0)" font-size="9" text-anchor="end" class="t" textLength="9.4" lengthAdjust="spacingAndGlyphs" fill="#111" >38</text>
<line x1="398.30" y1="397.50" x2="401.60" y2="397.50" stroke="#111" stroke-width="1"/>
<text transform="translate(394.40000000000003,400.5) matrix(1,0,0.002,1,0,0)" font-size="9" text-anchor="end" class="t" textLength="9.4" lengthAdjust="spacingAndGlyphs" fill="#111" >40</text>
<line x1="398.30" y1="382.80" x2="401.60" y2="382.80" stroke="#111" stroke-width="1"/>
<text transform="translate(394.40000000000003,385.8) matrix(1,0,0.002,1,0,0)" font-size="9" text-anchor="end" class="t" textLength="9.4" lengthAdjust="spacingAndGlyphs" fill="#111" >42</text>
<line x1="398.30" y1="368.10" x2="401.60" y2="368.10" stroke="#111" stroke-width="1"/>
<text transform="translate(394.40000000000003,371.1) matrix(1,0,0.002,1,0,0)" font-size="9" text-anchor="end" class="t" textLength="9.4" lengthAdjust="spacingAndGlyphs" fill="#111" >44</text>
<line x1="433.10" y1="441.90" x2="433.10" y2="445.40" stroke="#111" stroke-width="1"/>
<line x1="480.40" y1="441.90" x2="480.40" y2="445.40" stroke="#111" stroke-width="1"/>
<text transform="translate(433.1,456.5) matrix(1,0,0.002,1,0,0)" font-size="9.6" text-anchor="middle" class="t" textLength="35.3" lengthAdjust="spacingAndGlyphs" fill="#111" >No sCRS</text>
<text transform="translate(480.4,456.5) matrix(1,0,0.002,1,0,0)" font-size="9.6" text-anchor="middle" class="t" textLength="20.5" lengthAdjust="spacingAndGlyphs" fill="#111" >sCRS</text>
<text transform="translate(365.70000000000005,402.3) rotate(-90) matrix(1,0,0.002,1,0,0)" font-size="10.5" text-anchor="middle" class="t" textLength="39" lengthAdjust="spacingAndGlyphs" fill="#111" >Maximum</text>
<text transform="translate(377.90000000000003,402.7) rotate(-90) matrix(1,0,0.002,1,0,0)" font-size="10.5" text-anchor="middle" class="t" textLength="57.8" lengthAdjust="spacingAndGlyphs" fill="#111" >temperature °C</text>
<line x1="438.60" y1="370.80" x2="476.70" y2="370.80" stroke="#222" stroke-width="1"/>
<text transform="translate(457.65,367.8) matrix(1,0,0.002,1,0,0)" font-size="9.2" text-anchor="middle" class="t" textLength="11.0" lengthAdjust="spacingAndGlyphs" fill="#111" >NS</text>
<circle cx="428.6" cy="388.2" r="1.45" fill="#0d2a6e"/>
<circle cx="433" cy="388.2" r="1.45" fill="#0d2a6e"/>
<circle cx="437.6" cy="387.3" r="1.45" fill="#0d2a6e"/>
<circle cx="424" cy="392.4" r="1.45" fill="#0d2a6e"/>
<circle cx="428.6" cy="394.6" r="1.45" fill="#0d2a6e"/>
<circle cx="433" cy="395.9" r="1.45" fill="#0d2a6e"/>
<circle cx="437.6" cy="395.9" r="1.45" fill="#0d2a6e"/>
<circle cx="442" cy="393.7" r="1.45" fill="#0d2a6e"/>
<circle cx="426.4" cy="399.7" r="1.45" fill="#0d2a6e"/>
<circle cx="430.9" cy="401" r="1.45" fill="#0d2a6e"/>
<circle cx="435.2" cy="402.1" r="1.45" fill="#0d2a6e"/>
<circle cx="439.6" cy="401" r="1.45" fill="#0d2a6e"/>
<circle cx="428.6" cy="406.2" r="1.45" fill="#0d2a6e"/>
<circle cx="437.6" cy="406.2" r="1.45" fill="#0d2a6e"/>
<circle cx="433" cy="408.8" r="1.45" fill="#0d2a6e"/>
<circle cx="433" cy="413" r="1.45" fill="#0d2a6e"/>
<circle cx="433" cy="417.8" r="1.45" fill="#0d2a6e"/>
<circle cx="475.9" cy="396.8" r="2.0" fill="#a8102e"/>
<rect x="478.40" y="398.60" width="3.0" height="3.0" fill="#a8102e"/>
<rect x="483.20" y="398.20" width="3.0" height="3.0" fill="#a8102e"/>
<line x1="433.00" y1="390.60" x2="433.00" y2="408.30" stroke="#0d2a6e" stroke-width="1.15"/>
<line x1="425.25" y1="390.60" x2="440.75" y2="390.60" stroke="#0d2a6e" stroke-width="1.15"/>
<line x1="425.25" y1="408.30" x2="440.75" y2="408.30" stroke="#0d2a6e" stroke-width="1.15"/>
<line x1="417.20" y1="399.60" x2="448.80" y2="399.60" stroke="#0d2a6e" stroke-width="1.15"/>
<line x1="480.50" y1="397.20" x2="480.50" y2="401.40" stroke="#a8102e" stroke-width="1.15"/>
<line x1="473.00" y1="397.20" x2="488.00" y2="397.20" stroke="#a8102e" stroke-width="1.15"/>
<line x1="473.00" y1="401.40" x2="488.00" y2="401.40" stroke="#a8102e" stroke-width="1.15"/>
<line x1="464.95" y1="399.30" x2="496.05" y2="399.30" stroke="#a8102e" stroke-width="1.15"/>
</svg></body></html>
